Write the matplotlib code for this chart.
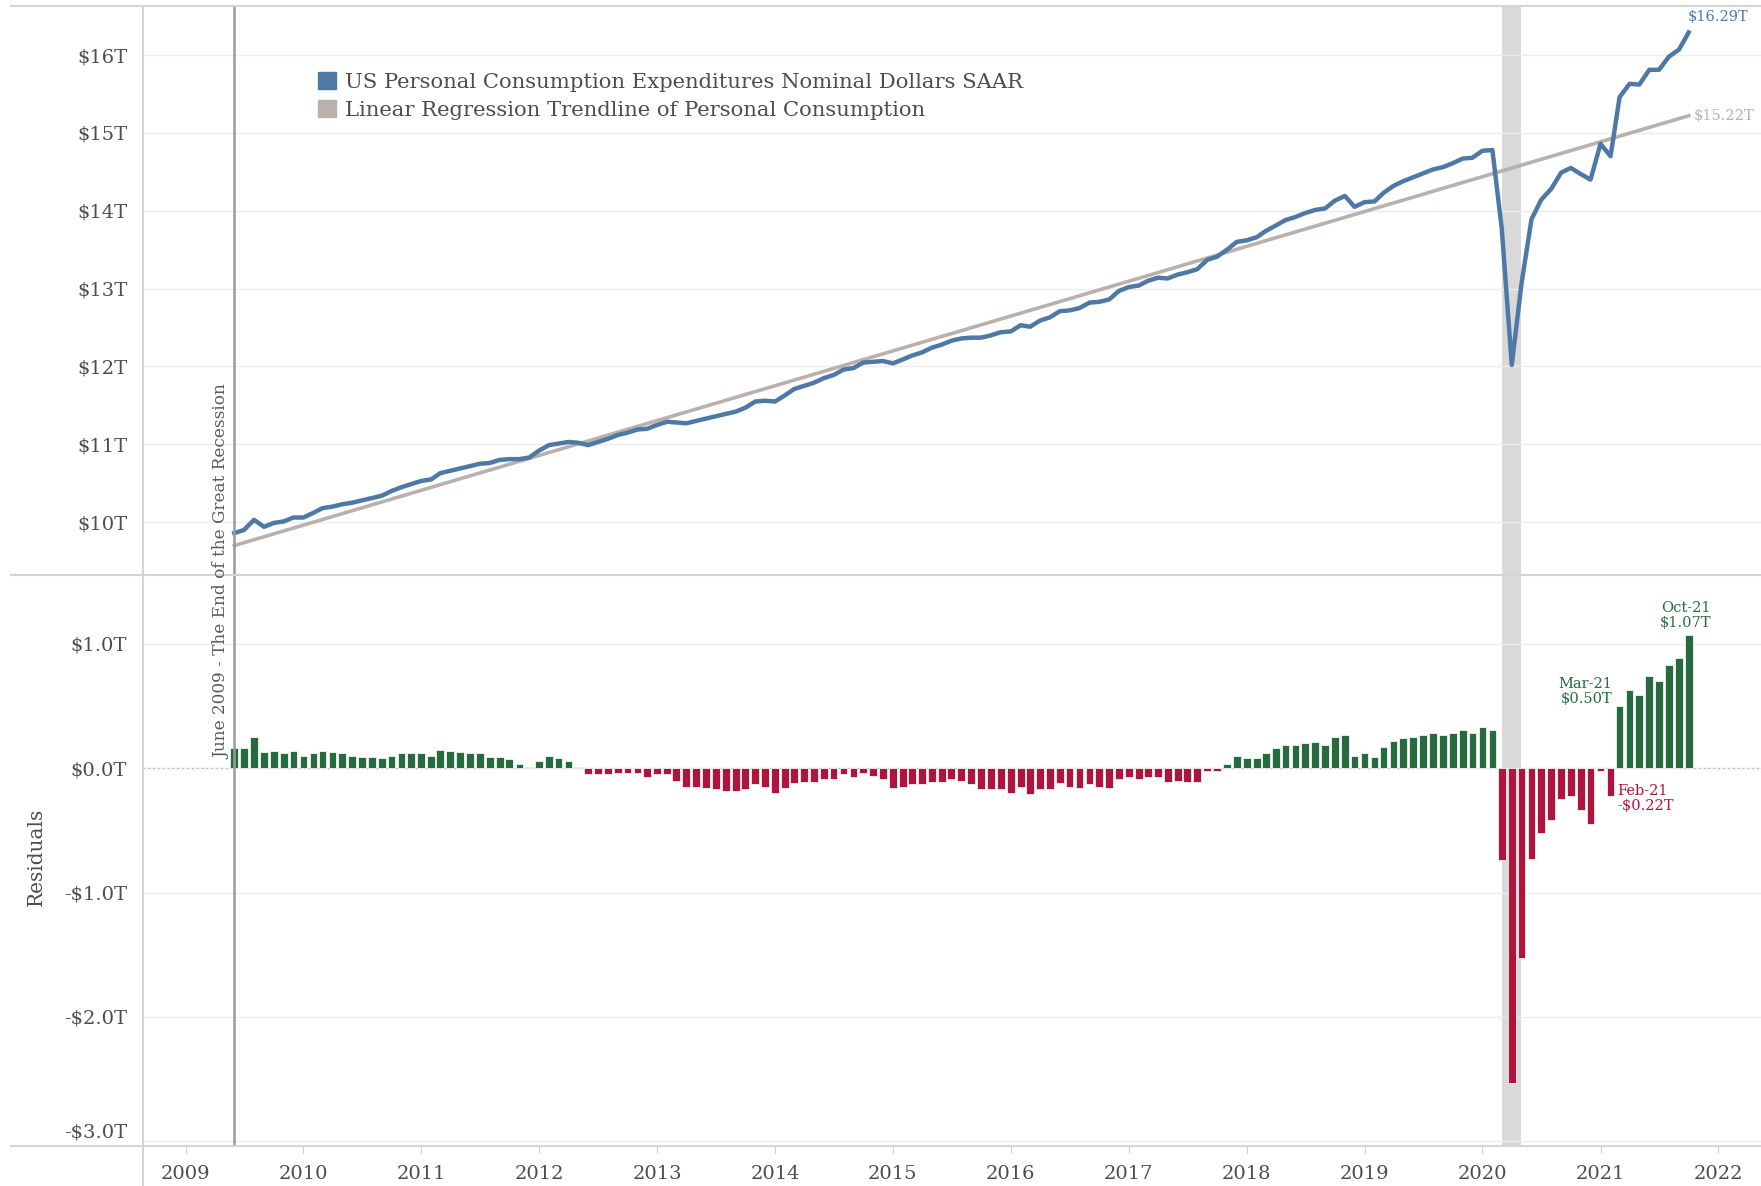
import numpy as np
import pandas as pd
import matplotlib
matplotlib.use("Agg")
import matplotlib.pyplot as plt
from matplotlib.patches import Patch
from matplotlib.lines import Line2D

plt.rcParams['font.family'] = ['DejaVu Serif']

# monthly data, June 2009 .. October 2021 (trillions of dollars)
months = pd.date_range("2009-06-01", "2021-10-01", freq="MS")

pce = [9.86, 9.90, 10.03, 9.94, 9.99, 10.01, 10.06, 10.06, 10.12, 10.18,
       10.20, 10.23, 10.25, 10.28, 10.31, 10.34, 10.40, 10.45, 10.49, 10.53,
       10.55, 10.63, 10.66, 10.69, 10.72, 10.75, 10.76, 10.80, 10.81, 10.81,
       10.83, 10.92, 10.99, 11.01, 11.03, 11.02, 10.99, 11.03, 11.07, 11.12,
       11.15, 11.19, 11.20, 11.25, 11.29, 11.28, 11.27, 11.30, 11.33, 11.36,
       11.39, 11.42, 11.47, 11.55, 11.56, 11.55, 11.63, 11.71, 11.75, 11.79,
       11.85, 11.89, 11.96, 11.98, 12.05, 12.06, 12.07, 12.04, 12.09, 12.14,
       12.18, 12.24, 12.28, 12.33, 12.36, 12.37, 12.37, 12.40, 12.44, 12.45,
       12.53, 12.51, 12.59, 12.63, 12.71, 12.72, 12.75, 12.82, 12.83, 12.86,
       12.97, 13.02, 13.04, 13.10, 13.14, 13.13, 13.18, 13.21, 13.25, 13.37,
       13.41, 13.50, 13.60, 13.62, 13.66, 13.74, 13.81, 13.88, 13.92, 13.97,
       14.01, 14.03, 14.13, 14.19, 14.05, 14.11, 14.12, 14.23, 14.32, 14.38,
       14.43, 14.48, 14.53, 14.56, 14.61, 14.67, 14.68, 14.77, 14.78, 13.77,
       12.02, 13.06, 13.89, 14.14, 14.28, 14.49, 14.55, 14.47, 14.40, 14.86,
       14.70, 15.46, 15.63, 15.62, 15.81, 15.81, 15.98, 16.07, 16.29]

trend = [9.70, 15.22]  # regression line at first and last month

residuals = [0.16, 0.16, 0.25, 0.13, 0.14, 0.12, 0.14, 0.10, 0.12, 0.14,
             0.13, 0.12, 0.10, 0.09, 0.09, 0.08, 0.10, 0.12, 0.12, 0.12,
             0.10, 0.15, 0.14, 0.13, 0.12, 0.12, 0.09, 0.09, 0.07, 0.03,
             0.01, 0.06, 0.10, 0.08, 0.06, 0.01, -0.05, -0.05, -0.05, -0.04,
             -0.04, -0.04, -0.07, -0.05, -0.05, -0.10, -0.15, -0.15, -0.16, -0.17,
             -0.18, -0.18, -0.17, -0.13, -0.15, -0.20, -0.16, -0.12, -0.11, -0.11,
             -0.09, -0.09, -0.05, -0.07, -0.04, -0.06, -0.09, -0.16, -0.15, -0.13,
             -0.13, -0.11, -0.11, -0.09, -0.10, -0.13, -0.17, -0.17, -0.17, -0.20,
             -0.15, -0.21, -0.17, -0.17, -0.12, -0.15, -0.16, -0.13, -0.15, -0.16,
             -0.09, -0.07, -0.09, -0.07, -0.07, -0.11, -0.10, -0.11, -0.11, -0.02,
             -0.02, 0.03, 0.10, 0.08, 0.08, 0.12, 0.16, 0.19, 0.19, 0.20,
             0.21, 0.19, 0.25, 0.27, 0.10, 0.12, 0.09, 0.17, 0.22, 0.24,
             0.25, 0.27, 0.28, 0.27, 0.28, 0.31, 0.28, 0.33, 0.31, -0.74,
             -2.53, -1.53, -0.73, -0.52, -0.42, -0.25, -0.22, -0.34, -0.45, -0.02,
             -0.22, 0.50, 0.63, 0.59, 0.74, 0.70, 0.83, 0.89, 1.07]

top_ticks = [10, 11, 12, 13, 14, 15, 16]
res_ticks = [-3.0, -2.0, -1.0, 0.0, 1.0]
years = list(range(2009, 2023))
labelled_months = ["2021-02-01", "2021-03-01", "2021-10-01"]
recession_end = "2009-06-01"
covid_band = ("2020-03-01", "2020-05-01")
legend_labels = ["US Personal Consumption Expenditures Nominal Dollars SAAR",
                 "Linear Regression Trendline of Personal Consumption"]

BLUE = "#4e79a7"
TREND = "#bab0ac"
GREEN = "#266b3e"
RED = "#b0133c"
BAND = "#d9d9d9"
TXT = "#4d4d4d"
FRAME = "#d4d4d4"

pce = np.array(pce)
residuals = np.array(residuals)

fig = plt.figure(figsize=(17.61, 11.86), dpi=100)
L = 127 / 1568
ax1 = fig.add_axes([L, 0.5152, 1 - L, 0.4801])
ax2 = fig.add_axes([L, 0.0341, 1 - L, 0.4811], sharex=ax1)

# top panel
ax1.plot(months, pce, color=BLUE, lw=3.2, zorder=4, solid_joinstyle="round")
ax1.plot([months[0], months[-1]], trend, color=TREND, lw=2.6, zorder=3)
ax1.set_ylim(9.322, 16.635)
ax1.set_yticks(top_ticks)
ax1.set_yticklabels([f"${v}T" for v in top_ticks])

# bottom panel
cols = [GREEN if v >= 0 else RED for v in residuals]
ax2.bar(months, residuals, width=24, color=cols, edgecolor="#f4f4f4",
        linewidth=0.6, zorder=3)
ax2.axhline(0, color="#b0b0b0", lw=1, ls=(0, (1, 2.5)), zorder=2)
ax2.set_ylim(-3.035, 1.554)
ax2.set_yticks(res_ticks)
ax2.set_yticklabels([("-" if v < 0 else "") + f"${abs(v):.1f}T" for v in res_ticks])
ax2.get_yticklabels()[0].set_va("bottom")

ax2.set_xlim(pd.Timestamp("2008-08-21"), pd.Timestamp("2022-05-13"))
ax2.set_xticks([pd.Timestamp(f"{y}-01-01") for y in years])
ax2.set_xticklabels([str(y) for y in years])

for ax in (ax1, ax2):
    for s in ax.spines.values():
        s.set_visible(False)
    ax.set_axisbelow(True)
    ax.yaxis.grid(True, color="#ececec", lw=1)
    ax.tick_params(axis="y", length=0, labelsize=14, labelcolor=TXT, pad=11)
    ax.axvspan(pd.Timestamp(covid_band[0]), pd.Timestamp(covid_band[1]),
               color=BAND, lw=0, zorder=0.2)
    ax.axvline(pd.Timestamp(recession_end), color="#9a9a9a", lw=1.8, zorder=5)

ax1.tick_params(axis="x", length=0, labelbottom=False)
ax2.tick_params(axis="x", length=5, color="#cccccc", labelsize=14,
                labelcolor=TXT, pad=9)

# end-of-line labels
ax1.annotate(f"${pce[-1]:.2f}T", xy=(months[-1], pce[-1]), xytext=(-1, 6),
             textcoords="offset points", ha="left", va="bottom",
             color=BLUE, fontsize=10.5)
ax1.annotate(f"${trend[1]:.2f}T", xy=(months[-1], trend[1]), xytext=(4, 0),
             textcoords="offset points", ha="left", va="center",
             color=TREND, fontsize=10.5)

# residual labels
for m in labelled_months:
    i = months.get_loc(pd.Timestamp(m))
    v = residuals[i]
    txt = f"{months[i]:%b-%y}\n" + ("-" if v < 0 else "") + f"${abs(v):.2f}T"
    if v < 0:
        ax2.annotate(txt, xy=(months[i], v), xytext=(5, 8), textcoords="offset points",
                     ha="left", va="top", color=RED, fontsize=10.5, linespacing=1.05)
    elif i == len(months) - 1:
        ax2.annotate(txt, xy=(months[i], v), xytext=(-2, 4), textcoords="offset points",
                     ha="center", va="bottom", color=GREEN, fontsize=10.5, linespacing=1.05)
    else:
        ax2.annotate(txt, xy=(months[i], v), xytext=(-5, 0), textcoords="offset points",
                     ha="right", va="bottom", color=GREEN, fontsize=10.5, linespacing=1.05)

fig.text(205 / 1568, 1 - 676 / 1056, "June 2009 - The End of the Great Recession",
         rotation=90, ha="right", va="bottom", fontsize=12.2, color="#5a5a5a")
fig.text(32 / 1568, 1 - 763 / 1056, "Residuals", rotation=90, ha="center",
         va="center", fontsize=14.5, color=TXT)

fig.legend(handles=[Patch(color=BLUE), Patch(color=TREND)], labels=legend_labels,
           loc="upper left", bbox_to_anchor=(283 / 1568, 1 - 64 / 1056),
           frameon=False, fontsize=15.2, handlelength=0.85, handleheight=0.85,
           handletextpad=0.45, labelspacing=0.42, borderpad=0, borderaxespad=0,
           labelcolor=TXT)

# pane borders
for yy in (5, 512, 1020):
    fig.add_artist(Line2D([10 / 1568, 1], [1 - yy / 1056] * 2,
                          transform=fig.transFigure, color=FRAME, lw=1.5))
fig.add_artist(Line2D([L, L], [0, 1 - 5 / 1056], transform=fig.transFigure,
                      color=FRAME, lw=1.5))

fig.savefig("out.png", dpi=100)
